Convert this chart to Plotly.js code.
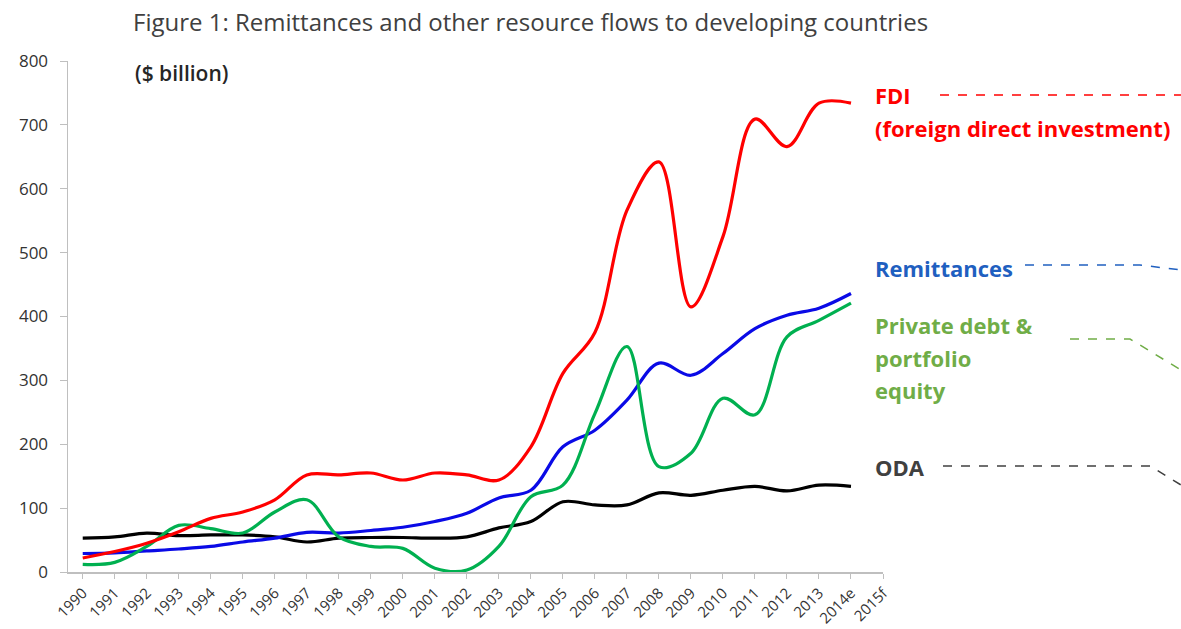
<!DOCTYPE html>
<html><head><meta charset="utf-8">
<script src="https://cdn.plot.ly/plotly-3.0.1.min.js"></script>
<style>html,body{margin:0;padding:0;background:#fff}#chart{width:1181px;height:629px}</style>
</head><body><div id="chart"></div>
<script>
const years = ['1990','1991','1992','1993','1994','1995','1996','1997','1998','1999','2000','2001','2002','2003','2004','2005','2006','2007','2008','2009','2010','2011','2012','2013','2014e','2015f'];
const fdi         = [22,32,45,63,84,94,113,152,152,155,144,155,152,144,196,311,375,566,642,415,525,709,666,734,734];
const remittances = [29,30,33,36,40,47,53,62,61,65,70,79,92,116,128,196,222,269,327,308,342,381,402,413,436];
const privateDebt = [12,15,40,73,68,61,94,113,55,40,37,6,3,40,118,136,248,353,165,186,272,246,368,394,421];
const oda         = [53,55,61,57,58,58,55,47,53,54,54,53,55,69,79,110,105,105,124,120,128,134,127,136,134];
const yTicks = [0,100,200,300,400,500,600,700,800];

const idx = years.map((_, i) => i);
function series(vals, color){
  return {x: idx.slice(0, vals.length), y: vals, type:'scatter', mode:'lines',
    line:{color:color, width:3.2, shape:'spline', smoothing:1}, hoverinfo:'skip'};
}
const data = [
  series(oda,'#000000'),
  series(remittances,'#0a0ae6'),
  series(privateDebt,'#00b050'),
  series(fdi,'#ff0000')
];

const L=68, R=883, T=61, B=572;
const px = p => (p-L)/(R-L);
const py = p => (B-p)/(B-T);
const FONT = 'Open Sans, sans-serif';

function lab(text, xp, yp, color, size){
  return {text:text, xref:'paper', yref:'paper', x:px(xp), y:py(yp), xanchor:'left', yanchor:'middle',
    showarrow:false, font:{family:FONT, size:size||22, color:color, weight:'bold'}};
}
function dash(pts, color){
  let d = pts.map((p,i)=> (i?'L':'M') + px(p[0]) + ',' + py(p[1])).join(' ');
  return {type:'path', path:d, xref:'paper', yref:'paper', line:{color:color, width:1.5, dash:'dash'}};
}

const layout = {
  width:1181, height:629,
  margin:{l:L, r:1181-R, t:T, b:629-B},
  paper_bgcolor:'#fff', plot_bgcolor:'#fff',
  showlegend:false,
  title:{text:'Figure 1: Remittances and other resource flows to developing countries',
    xref:'container', yref:'container', x:133/1181, xanchor:'left', y:1-23/629, yanchor:'middle',
    font:{family:FONT, size:24, color:'#404040'}},
  xaxis:{range:[-0.46,25], tickmode:'array', tickvals:idx, ticktext:years, tickangle:-45,
    showgrid:false, zeroline:false, showline:true, linecolor:'#bfbfbf', linewidth:1.5,
    ticks:'outside', ticklen:5, tickcolor:'#bfbfbf',
    tickfont:{family:FONT, size:15, color:'#333333'}},
  yaxis:{range:[0,800], tickmode:'array', tickvals:yTicks, showgrid:false, zeroline:false,
    showline:true, linecolor:'#bfbfbf', linewidth:1.5, ticks:'outside', ticklen:7, tickcolor:'#bfbfbf',
    ticklabelstandoff:8,
    tickfont:{family:FONT, size:17, color:'#333333'}},
  annotations:[
    {text:'($ billion)', xref:'paper', yref:'paper', x:px(133), y:py(73), xanchor:'left', yanchor:'middle',
      showarrow:false, font:{family:FONT, size:21, color:'#262626', weight:600}},
    lab('FDI',873,95,'#ff0000'),
    lab('(foreign direct investment)',873,128,'#ff0000'),
    lab('Remittances',873,268,'#1f5fc0'),
    lab('Private debt &',873,325,'#70ad47'),
    lab('portfolio',873,358,'#70ad47'),
    lab('equity',873,390,'#70ad47'),
    lab('ODA',873,467,'#404040')
  ],
  shapes:[
    dash([[940,95],[1181,95]],'#ff0000'),
    dash([[1025,265],[1140,265],[1181,270]],'#2060c0'),
    dash([[1070,339],[1130,339],[1181,370]],'#70ad47'),
    dash([[943,466],[1150,466],[1181,485]],'#404040')
  ]
};
Plotly.newPlot('chart', data, layout, {staticPlot:true});
</script></body></html>
